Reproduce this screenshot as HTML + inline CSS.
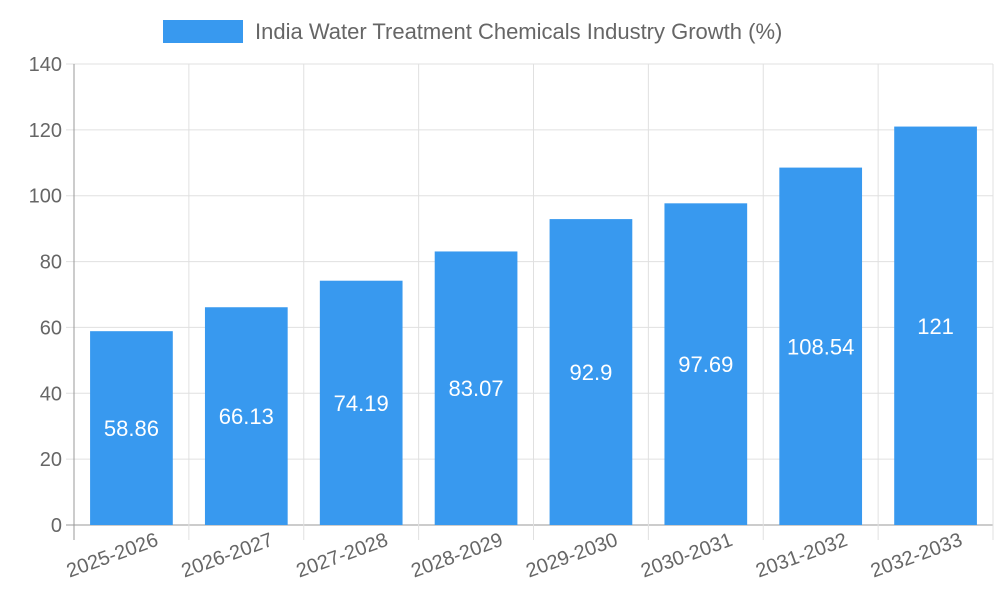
<!DOCTYPE html>
<html><head><meta charset="utf-8"><style>
html,body{margin:0;padding:0;background:#fff;}
svg{display:block;font-family:"Liberation Sans",sans-serif;}
</style></head><body>
<svg id="chart" width="1000" height="600">
<g>
<rect x="163" y="20" width="80" height="23" fill="#3899ef"></rect>
<text x="255" y="39" font-size="22" fill="#666">India Water Treatment Chemicals Industry Growth (%)</text>
</g>
<g id="grid"></g>
<g id="bars"></g>
<g id="axes"></g>
</svg>
<script>
const categories=["2025-2026","2026-2027","2027-2028","2028-2029","2029-2030","2030-2031","2031-2032","2032-2033"];
const values=[58.86,66.13,74.19,83.07,92.9,97.69,108.54,121];
const yTicks=[0,20,40,60,80,100,120,140];
const NS="http://www.w3.org/2000/svg";
const L=74,R=993,T=64,B=525,yMax=140;
const bw=(R-L)/categories.length;
const y=v=>B-(v/yMax)*(B-T);
const xc=i=>L+bw*(i+0.5);
function mk(tag,attrs,parent,txt){const e=document.createElementNS(NS,tag);for(const k in attrs)e.setAttribute(k,attrs[k]);if(txt!==undefined)e.textContent=txt;parent.appendChild(e);return e;}
const grid=document.getElementById('grid'),bars=document.getElementById('bars'),axes=document.getElementById('axes');
yTicks.forEach(t=>{
 const l=mk('line',{x1:L-8,x2:R,y1:y(t),y2:y(t),stroke:t===0?'#999':'#e0e0e0','stroke-width':1},grid);
 
 
 const tx=mk('text',{x:L-12,y:y(t)+7,'text-anchor':'end','font-size':20,fill:'#666'},axes,String(t));
 
 
});
for(let i=0;i<=categories.length;i++){
 const x=L+bw*i;
 const l=mk('line',{x1:x,x2:x,y1:T,y2:B+15,stroke:i===0?'#999':'#e0e0e0','stroke-width':1},grid);
 
 
}
values.forEach((v,i)=>{
 const w=bw*0.72;
 const r=mk('rect',{x:xc(i)-w/2,y:y(v),width:w,height:B-y(v),fill:'#3899ef'},bars);
 
 
 const t=mk('text',{x:xc(i),y:(y(v)+B)/2+8,'text-anchor':'middle','font-size':22,fill:'#fff'},bars,String(v));
 
 
});
categories.forEach((c,i)=>{
 const x=xc(i)+28,yy=545;
 const t=mk('text',{x:x,y:yy,'text-anchor':'end','font-size':20,fill:'#666',transform:`rotate(-20 ${x} ${yy})`},axes,c);
 
 
});
</script>
</body></html>
